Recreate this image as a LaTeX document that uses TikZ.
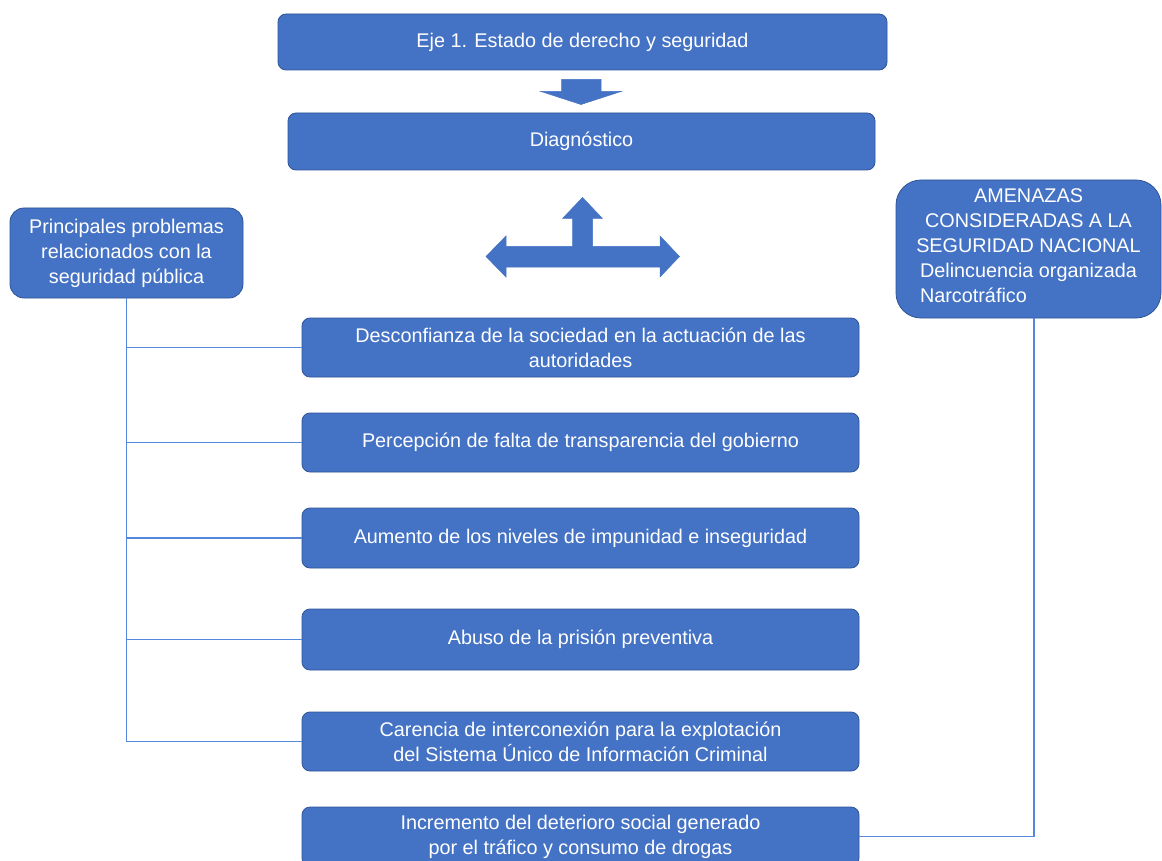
\documentclass[tikz,border=0pt]{standalone}
\usepackage{fontspec}
\setmainfont{Liberation Sans}
\definecolor{boxfill}{HTML}{4472C4}
\definecolor{boxline}{HTML}{2F5597}
\definecolor{linkcol}{HTML}{5588DD}
\begin{document}
\begin{tikzpicture}[x=1pt,y=-1pt,
  box/.style={draw=boxline, fill=boxfill, line width=0.8pt, rounded corners=8pt,
    text=white, align=center, inner sep=0pt,
    font=\fontsize{19.8}{25}\selectfont},
  topbox/.style={box},
  midbox/.style={box, minimum width=557pt},
  link/.style={draw=linkcol, line width=1.3pt},
  arrowshape/.style={fill=boxfill, draw=boxfill, line width=0.5pt, line join=miter}]
\useasboundingbox (0,0) rectangle (1162,861);

\node[topbox, minimum width=609pt, minimum height=56pt] (eje) at (582.5,42) {Eje 1. Estado de derecho y seguridad};
\node[topbox, minimum width=587pt, minimum height=57pt] (diag) at (581.5,141.5) {Diagnóstico};

\node[box, rounded corners=14pt, minimum width=233pt, minimum height=90pt] (prob) at (126.5,253)
  {Principales problemas\\relacionados con la\\seguridad pública};
\node[box, rounded corners=25pt, minimum width=265pt, minimum height=138pt] (amen) at (1028.5,249)
  {AMENAZAS\\CONSIDERADAS A LA\\SEGURIDAD NACIONAL\\\begin{tabular}[t]{@{}l@{}}Delincuencia organizada\\Narcotráfico\end{tabular}};

\node[midbox, minimum height=59pt] (c1) at (580.5,347.5) {Desconfianza de la sociedad en la actuación de las\\autoridades};
\node[midbox, minimum height=59pt] (c2) at (580.5,442.5) {Percepción de falta de transparencia del gobierno};
\node[midbox, minimum height=60pt] (c3) at (580.5,538) {Aumento de los niveles de impunidad e inseguridad};
\node[midbox, minimum height=61pt] (c4) at (580.5,639.5) {Abuso de la prisión preventiva};
\node[midbox, minimum height=59pt] (c5) at (580.5,741.5) {Carencia de interconexión para la explotación\\del Sistema Único de Información Criminal};
\node[midbox, minimum height=59pt] (c6) at (580.5,836.5) {Incremento del deterioro social generado\\por el tráfico y consumo de drogas};

% down arrow
\path[arrowshape] (561.5,79.5) -- (601,79.5) -- (601,91.5) -- (621,91.5) -- (581,104.5)
  -- (541,91.5) -- (561.5,91.5) -- cycle;
% three-way arrow
\path[arrowshape] (582.5,197.5) -- (602.5,218.5) -- (592.5,218.5) -- (592.5,246.5)
  -- (660,246.5) -- (660,236) -- (679.5,256.5) -- (660,277) -- (660,267) -- (506,267)
  -- (506,277) -- (486,256.5) -- (506,236) -- (506,246.5) -- (572.5,246.5)
  -- (572.5,218.5) -- (562.5,218.5) -- cycle;

% left connectors
\draw[link] (prob.south) -- (prob.south |- c5.west) -- (c5.west);
\foreach \n in {c1,c2,c3,c4}{
  \draw[link] (prob.south |- \n.west) -- (\n.west);
}
% right connector
\coordinate (rtop) at ([xshift=5.5pt]amen.south);
\draw[link] (rtop) -- (rtop |- c6.east) -- (c6.east);
\end{tikzpicture}
\end{document}
